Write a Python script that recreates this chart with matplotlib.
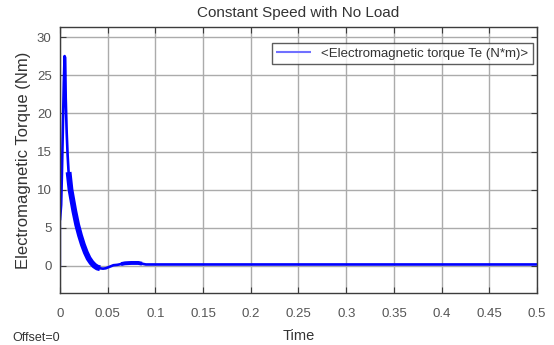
import numpy as np
import matplotlib
matplotlib.use("Agg")
import matplotlib.pyplot as plt

plt.rcParams['font.family'] = ['Liberation Sans', 'DejaVu Sans']

# Par electromagnético: trazo principal (tiempo en s, par en N*m)
t_te = [0.0, 0.0012, 0.002, 0.003, 0.004, 0.0048, 0.0054, 0.006, 0.007,
        0.008, 0.009, 0.011, 0.013, 0.015, 0.018, 0.021, 0.024, 0.027,
        0.030, 0.033, 0.036, 0.039, 0.042, 0.045, 0.048, 0.052, 0.056,
        0.060, 0.064, 0.068, 0.075, 0.082, 0.086, 0.090, 0.100, 0.500]
te = [6.0, 8.0, 12.0, 18.0, 24.0, 27.5, 27.3, 22.0, 17.5,
      14.5, 12.3, 10.0, 8.6, 7.2, 5.4, 4.0, 2.8, 1.8,
      1.0, 0.45, 0.05, -0.2, -0.3, -0.35, -0.3, -0.1, 0.1,
      0.15, 0.25, 0.35, 0.4, 0.4, 0.3, 0.2, 0.2, 0.2]

# Arranque: salto inicial desde cero
t_start = [0.0, 0.0]
te_start = [0.0, 6.0]

x_ticks = [0, 0.05, 0.1, 0.15, 0.2, 0.25, 0.3, 0.35, 0.4, 0.45, 0.5]
x_labels = ["0", "0.05", "0.1", "0.15", "0.2", "0.25", "0.3", "0.35", "0.4", "0.45", "0.5"]
y_ticks = [0, 5, 10, 15, 20, 25, 30]

fig = plt.figure(figsize=(5.54, 3.45), dpi=100)
ax = fig.add_axes([0.1083, 0.1507, 0.861, 0.771])

ax.plot(t_start, te_start, color="#6f6fff", lw=1.0)
ax.plot(t_te, te, color="#0000ff", lw=1.9, solid_capstyle="butt",
        label="<Electromagnetic torque Te (N*m)>")
# banda gruesa del rizado durante el transitorio
ax.plot(t_te[10:23], te[10:23], color="#0000ff", lw=4.2, solid_capstyle="butt")
ax.plot(t_te[28:33], te[28:33], color="#0000ff", lw=2.8, solid_capstyle="butt")

ax.set_xlim(0, 0.5)
ax.set_ylim(-3.54, 31.31)
ax.set_xticks(x_ticks)
ax.set_xticklabels(x_labels)
ax.set_yticks(y_ticks)

ax.grid(True, color="#ababab", lw=1.0)
ax.set_axisbelow(True)
for s in ax.spines.values():
    s.set_color("#3c3c3c")
    s.set_linewidth(1.0)
ax.tick_params(direction="in", length=4, width=0.8, color="#3c3c3c",
               labelcolor="#555555", labelsize=9.5, top=True, right=True)
ax.tick_params(axis="x", pad=11)
ax.tick_params(axis="y", pad=6)

ax.set_title("Constant Speed with No Load", fontsize=11, color="#333333", pad=7)
ax.set_xlabel("Time", fontsize=10.5, color="#333333", labelpad=6)
ax.set_ylabel("Electromagnetic Torque (Nm)", fontsize=12, color="#333333", labelpad=4)
fig.text(0.022, 0.012, "Offset=0", fontsize=9, color="#333333")

leg = ax.legend(loc="upper right", bbox_to_anchor=(0.9916, 0.94), borderaxespad=0,
                fontsize=9.5, frameon=True, fancybox=False, handlelength=2.6,
                borderpad=0.35, labelcolor="#333333")
leg.get_frame().set_edgecolor("#333333")
leg.get_frame().set_linewidth(1.0)
leg.legend_handles[0].set_color("#7070ff")
leg.legend_handles[0].set_linewidth(1.5)

fig.savefig("out.png", dpi=100)
